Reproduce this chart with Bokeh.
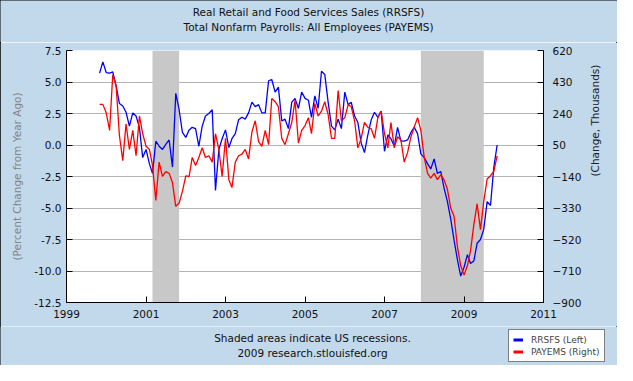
import math
import pandas as pd
from bokeh.plotting import figure
from bokeh.layouts import column
from bokeh.models import (Range1d, LinearAxis, FixedTicker, DatetimeTickFormatter,
                          PrintfTickFormatter, BoxAnnotation, Label, Legend, LegendItem)
from bokeh.embed import file_html
from bokeh.resources import INLINE

# ---------------- data ----------------
months = pd.date_range("1999-11-01", "2009-11-01", freq="MS")

# Real Retail and Food Services Sales, percent change from year ago (left axis)
rrsfs = [
    5.7, 6.6,
    5.75, 5.7, 5.8, 4.7, 3.3, 3.1, 2.6, 1.5, 2.55, 2.3, 1.4, -1.0,
    -0.35, -1.5, -2.25, 0.3, -0.1, -0.35, 0.05, 0.4, -1.75, 4.1, 2.8, 1.0,
    0.6, 1.2, 1.4, 1.3, -0.1, 1.5, 2.3, 2.5, 2.8, -3.6, -0.35, 0.5,
    1.2, -0.2, 0.5, 0.9, 2.0, 2.2, 2.05, 2.55, 3.4, 3.05, 3.2, 2.55,
    2.55, 5.1, 5.2, 4.2, 4.6, 1.9, 2.05, 1.3, 3.4, 3.7, 2.9, 4.2,
    3.7, 3.55, 2.2, 3.9, 2.9, 5.85, 5.6, 3.4, 1.5, 1.2, 2.05, 1.3,
    4.2, 3.2, 3.4, 2.3, 1.8, 0.15, -0.6, 0.8, 2.0, 2.6, 2.2, 2.7,
    -0.5, 0.8, 0.5, -0.1, 1.4, 0.3, 0.3, 0.4, 1.0, 1.4, 0.9, -0.7,
    -1.0, -1.5, -1.9, -1.1, -2.25, -2.1, -3.4, -4.5, -5.9, -7.55, -9.1, -10.4,
    -9.7, -8.7, -9.4, -9.2, -7.8, -7.5, -6.7, -4.5, -4.8, -1.8, 0.0,
]

# Total Nonfarm Payrolls, monthly change in thousands (right axis)
payems = [
    295, 295,
    244, 138, 474, 407, 109, -44, 177, 23, 138, -15, 225, 118,
    42, 23, -73, -284, -53, -140, -111, -121, -178, -320, -300, -230,
    -136, -140, -25, -73, -25, 33, -25, -15, -53, 118, 23, -140,
    90, -159, -207, -53, -15, -5, 23, -34, 129, 196, 71, 42,
    138, 52, 330, 311, 282, 90, 52, 118, 186, 321, 62, 138,
    167, 215, 118, 301, 225, 254, 311, 234, 90, 90, 378, 196,
    215, 292, 282, 196, 33, 90, 186, 157, 148, 90, 215, 254,
    119, 33, 186, 33, 100, 80, -53, 4, 100, 157, 215, 138,
    -24, -121, -150, -121, -159, -130, -159, -217, -332, -380, -563, -677,
    -735, -677, -590, -430, -305, -460, -290, -155, -135, -110, -15,
]

recessions = [("2001-03-01", "2001-11-01"), ("2007-12-01", "2009-07-01")]
left_ticks = [-12.5, -10.0, -7.5, -5.0, -2.5, 0.0, 2.5, 5.0, 7.5]
right_ticks = [-900, -710, -520, -330, -140, 50, 240, 430, 620]
year_ticks = [1999, 2001, 2003, 2005, 2007, 2009, 2011]

title_lines = ["Real Retail and Food Services Sales (RRSFS)",
               "Total Nonfarm Payrolls: All Employees (PAYEMS)"]
foot_lines = ["Shaded areas indicate US recessions.", "2009 research.stlouisfed.org"]
legend_labels = ["RRSFS (Left)", "PAYEMS (Right)"]


def ms(d):
    return pd.Timestamp(d).value / 1e6


BG = "#C2D8EB"
FONT = "DejaVu Sans"
W = 617
FL, FR = 66, 74          # main frame borders (left / right)
ALIGNED = False


def strip(height):
    global ALIGNED
    f = figure(width=W, height=height, output_backend="svg", toolbar_location=None,
               title=None, x_range=Range1d(0, 1), y_range=Range1d(0, 1),
               x_axis_location=None, y_axis_location=None,
               min_border=0, background_fill_color=BG, border_fill_color=BG,
               outline_line_color=None)
    f.xgrid.visible = False
    f.ygrid.visible = False
    try:
        f.frame_align = False
    except Exception:
        ALIGNED = True
    return f


# ---------------- title strip ----------------
top = strip(42)
off = -FL if ALIGNED else 0
for txt, yy in zip(title_lines, [30.5, 16]):
    top.add_layout(Label(x=308 + off, y=yy, x_units="screen", y_units="screen", text=txt,
                         text_align="center", text_baseline="middle", text_font=FONT,
                         text_font_size="10.5px", text_color="#111111"))

# ---------------- main chart ----------------
p = figure(width=W, height=284, output_backend="svg", toolbar_location=None, title=None,
           x_axis_type="datetime",
           x_range=Range1d(ms("1999-01-01"), ms("2011-01-01")),
           y_range=Range1d(left_ticks[0], left_ticks[-1]),
           min_border_left=FL, min_border_right=FR, min_border_top=8, min_border_bottom=24,
           background_fill_color="white", border_fill_color=BG, outline_line_color=None)

p.extra_y_ranges = {"pay": Range1d(right_ticks[0], right_ticks[-1])}

p.xgrid.grid_line_color = None
p.ygrid.ticker = FixedTicker(ticks=left_ticks)
p.ygrid.grid_line_color = "#B4B4B4"
p.ygrid.grid_line_width = 1
p.ygrid.level = "image"

for a, b in recessions:
    p.add_layout(BoxAnnotation(left=ms(a), right=ms(b), fill_color="#C8C8C8",
                               fill_alpha=1.0, line_color=None, level="underlay"))

xa = p.xaxis[0]
xa.ticker = FixedTicker(ticks=[ms(f"{y}-01-01") for y in year_ticks])
xa.formatter = DatetimeTickFormatter(years="%Y", months="%Y", days="%Y", hours="%Y",
                                     minutes="%Y", seconds="%Y", milliseconds="%Y")
ya = p.yaxis[0]
ya.ticker = FixedTicker(ticks=left_ticks)
ya.formatter = PrintfTickFormatter(format="%.1f")
ya.axis_label = "(Percent Change from Year Ago)"
ya.axis_label_text_color = "#858585"

ra = LinearAxis(y_range_name="pay", ticker=FixedTicker(ticks=right_ticks),
                axis_label="(Change, Thousands)")
p.add_layout(ra, "right")

for ax in (xa, ya, ra):
    ax.major_tick_in = 6
    ax.major_tick_out = 0
    ax.minor_tick_line_color = None
    ax.axis_line_color = "black"
    ax.major_tick_line_color = "black"
    ax.major_label_text_font = FONT
    ax.major_label_text_font_size = "10.5px"
    ax.major_label_text_color = "#111111"
    ax.axis_label_text_font = FONT
    ax.axis_label_text_font_size = "10.5px"
    ax.axis_label_text_font_style = "normal"
xa.major_label_standoff = 7
ya.major_label_standoff = 5
ya.axis_label_standoff = 8
ra.major_label_standoff = 9
ra.axis_label_standoff = 11
ra.axis_label_text_color = "#222222"
try:
    ra.axis_label_orientation = math.pi / 2
except Exception:
    pass

p.line(months, rrsfs, line_color="#0000FF", line_width=1.3)
p.line(months, payems, line_color="#FF0000", line_width=1.3, y_range_name="pay")

# ---------------- footer strip ----------------
bot = strip(39)
off = -FL if ALIGNED else 0
for txt, yy in zip(foot_lines, [27.8, 12.5]):
    bot.add_layout(Label(x=312 + off, y=yy, x_units="screen", y_units="screen", text=txt,
                         text_align="center", text_baseline="middle", text_font=FONT,
                         text_font_size="10.5px", text_color="#111111"))
nan = float("nan")
g1 = bot.line(x=[nan, nan], y=[nan, nan], line_color="#0000FF", line_width=3)
g2 = bot.line(x=[nan, nan], y=[nan, nan], line_color="#FF0000", line_width=3)
leg_x = 508 if not ALIGNED else (W - FL - FR - 108)
legend = Legend(items=[LegendItem(label=legend_labels[0], renderers=[g1], index=0),
                       LegendItem(label=legend_labels[1], renderers=[g2], index=0)],
                location=(leg_x, 3), label_text_font=FONT, label_text_font_size="9px",
                glyph_width=10, glyph_height=9, label_standoff=8, padding=4, spacing=1,
                border_line_color="black", border_line_width=1,
                background_fill_color="white", background_fill_alpha=1.0, margin=0,
                label_height=11)
bot.add_layout(legend, "center")

layout = column(top, p, bot, spacing=0,
                styles={"outline": "1px solid black", "outline-offset": "-1px"})
open("out.html", "w").write(file_html(layout, INLINE))
